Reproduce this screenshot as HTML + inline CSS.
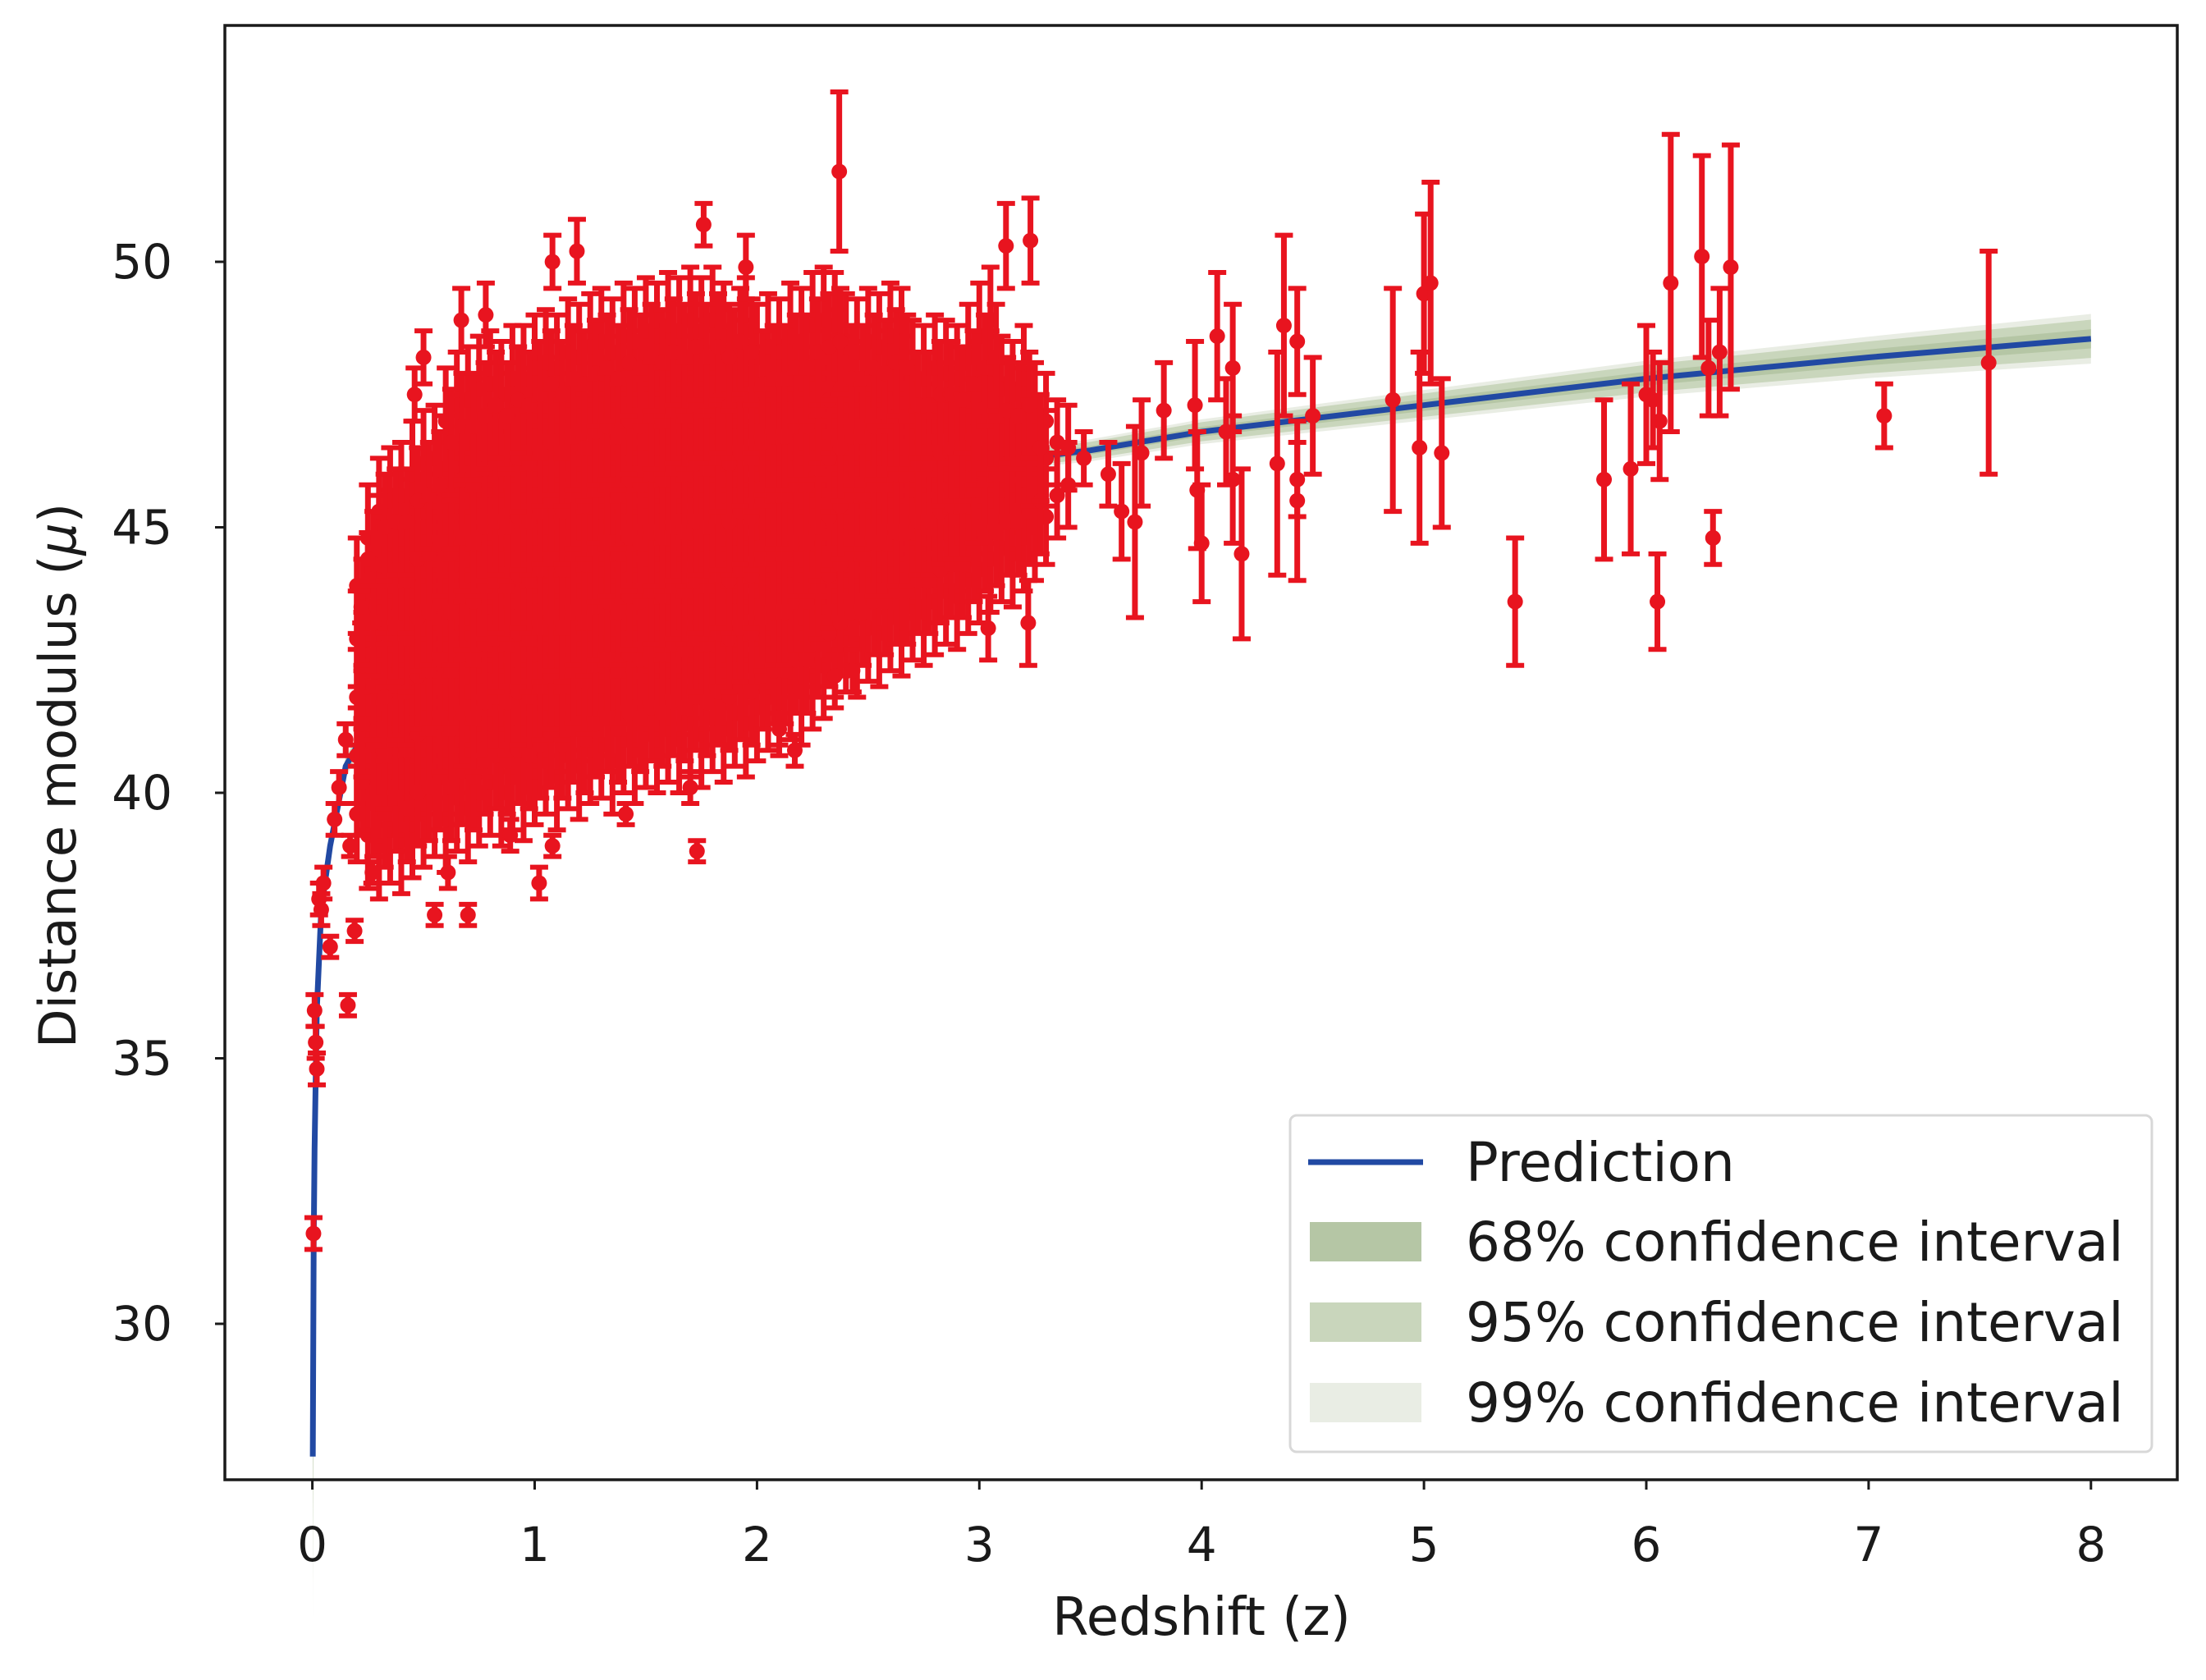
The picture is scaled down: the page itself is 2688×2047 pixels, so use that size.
<!DOCTYPE html>
<html><head><meta charset="utf-8"><style>
html,body{margin:0;padding:0;background:#fff;}
svg{display:block;font-family:"DejaVu Sans","Liberation Sans",sans-serif;}
</style></head><body>
<svg id="chart" width="2688" height="2047" viewBox="0 0 2688 2047" xmlns="http://www.w3.org/2000/svg">
<rect width="2688" height="2047" fill="#fff"/>
<g id="bands"></g>
<g id="pred"></g>
<g id="points"></g>
<g id="axes"></g>
<g id="legend"></g>
</svg>
<script>
// ---- data ----
const xTicks=[0,1,2,3,4,5,6,7,8];
const yTicks=[30,35,40,45,50];
const predZ=[0.002,0.004,0.006,0.01,0.02,0.04,0.08,0.15,0.3,0.5,1,2,3,3.5,4,5,6,7,8];
const predMu=[27.5,29.5,31.5,33.3,35.9,37.8,39.0,40.5,41.6,42.7,44.2,45.5,46.2,46.45,46.8,47.3,47.8,48.2,48.55];
const predSigma=[1.2,1.0,0.8,0.5,0.3,0.15,0.1,0.08,0.06,0.05,0.05,0.06,0.07,0.08,0.09,0.11,0.13,0.15,0.18];
const blobZ=[0.20,0.25,0.30,0.35,0.40,0.45,0.50,0.55,0.60,0.65,0.70,0.75,0.80,0.85,0.90,0.95,1.00,1.05,1.10,1.15,1.20,1.25,1.30,1.35,1.40,1.45,1.50,1.55,1.60,1.65,1.70,1.75,1.80,1.85,1.90,1.95,2.00,2.05,2.10,2.15,2.20,2.25,2.30,2.35,2.40,2.45,2.50,2.55,2.60,2.65,2.70,2.75,2.80,2.85,2.90,2.95,3.00,3.05,3.10,3.15,3.20,3.25,3.30,3.35,3.40];
const blobMu=[
[39.6,40.7,41.8,42.9,43.9],[39.2,40.3,41.5,42.6,43.8,44.8],[39.0,40.1,41.2,42.4,43.5,44.6,45.3],[39.3,40.4,41.4,42.5,43.6,44.7,45.5],
[39.1,40.2,41.3,42.3,43.4,44.5,45.6],[39.4,40.5,41.6,42.7,43.8,44.9,46.0],[39.6,40.6,41.7,42.8,43.9,45.0,46.2],[39.8,40.9,42.0,43.0,44.1,45.2,46.3],
[39.5,40.6,41.7,42.8,43.9,45.0,46.1,47.0],[39.9,41.0,42.1,43.2,44.3,45.4,46.5,47.3],[39.7,40.8,41.9,43.0,44.1,45.2,46.3,47.4],[40.0,41.1,42.2,43.3,44.4,45.5,46.6,47.6],
[40.2,41.3,42.4,43.5,44.6,45.7,46.8,47.7],[40.0,41.1,42.2,43.3,44.4,45.5,46.6,47.5],[40.3,41.4,42.5,43.6,44.7,45.8,46.9,47.8],[40.1,41.2,42.3,43.4,44.5,45.6,46.7,47.8],
[40.4,41.5,42.6,43.7,44.8,45.9,47.0,48.0],[40.6,41.7,42.8,43.9,45.0,46.1,47.2,48.1],[40.3,41.4,42.5,43.6,44.7,45.8,46.9,48.0],[40.7,41.8,42.9,44.0,45.1,46.2,47.3,48.3],
[40.5,41.6,42.7,43.8,44.9,46.0,47.1,48.2],[40.8,41.9,43.0,44.1,45.2,46.3,47.4,48.4],[40.9,42.0,43.1,44.2,45.3,46.4,47.5,48.5],[40.6,41.7,42.8,43.9,45.0,46.1,47.2,48.3],
[41.0,42.1,43.2,44.3,45.4,46.5,47.6,48.6],[40.8,41.9,43.0,44.1,45.2,46.3,47.4,48.5],[41.1,42.2,43.3,44.4,45.5,46.6,47.7,48.7],[41.0,42.1,43.2,44.3,45.4,46.5,47.6,48.6],
[41.2,42.3,43.4,44.5,45.6,46.7,47.8,48.8],[41.0,42.1,43.2,44.3,45.4,46.5,47.6,48.7],[41.3,42.4,43.5,44.6,45.7,46.8,47.9,48.9],[41.1,42.2,43.3,44.4,45.5,46.6,47.7,48.7],
[41.4,42.5,43.6,44.7,45.8,46.9,48.0,48.9],[41.2,42.3,43.4,44.5,45.6,46.7,47.8,48.6],[41.5,42.6,43.7,44.8,45.9,47.0,48.1],[41.3,42.4,43.5,44.6,45.7,46.8,47.9,48.7],
[41.6,42.7,43.8,44.9,46.0,47.1,48.2],[41.8,42.9,44.0,45.1,46.2,47.3,48.4],[41.7,42.8,43.9,45.0,46.1,47.2,48.3],[42.0,43.1,44.2,45.3,46.4,47.5,48.6],
[41.9,43.0,44.1,45.2,46.3,47.4,48.5],[42.2,43.3,44.4,45.5,46.6,47.7,48.8],[42.4,43.5,44.6,45.7,46.8,47.9,48.9],[42.6,43.7,44.8,45.9,47.0,48.1,48.8],
[42.9,44.0,45.1,46.2,47.3,48.4],[42.8,43.9,45.0,46.1,47.2,48.3],[43.1,44.2,45.3,46.4,47.5,48.5],[43.0,44.1,45.2,46.3,47.4,48.4],
[43.3,44.4,45.5,46.6,47.7,48.6],[43.2,44.3,45.4,46.5,47.6,48.5],[43.5,44.6,45.7,46.8,47.9],[43.4,44.5,45.6,46.7,47.8],
[43.6,44.7,45.8,46.9,48.0],[43.8,44.9,46.0,47.1,47.9],[43.7,44.8,45.9,47.0,47.8],[44.0,45.1,46.2,47.3,48.2],
[44.2,45.3,46.4,47.5,48.6],[44.4,45.5,46.6,47.7,48.9],[44.6,45.7,46.8,47.6],[44.5,45.6,46.7,47.5],
[44.8,45.9,47.0,47.8],[45.0,46.1,47.1],[45.2,46.3,47.0],[45.6,46.6],[45.8,46.5]];
const blobErr=[0.9,1.0,1.0,1.0,1.0,1.0,1.0,1.0,1.0,1.0,1.0,1.0,1.0,1.0,1.0,1.0,1.0,1.0,1.0,1.0,1.0,1.0,1.0,1.0,1.0,1.0,1.0,1.0,1.0,1.0,1.0,1.0,1.0,1.0,1.0,1.0,1.0,1.0,1.0,1.0,1.0,1.0,1.0,1.0,1.0,1.0,1.0,1.0,1.0,1.0,1.0,1.0,1.0,1.0,1.0,1.0,1.0,1.0,1.0,1.0,1.0,1.0,0.9,0.8,0.8];
const fillZ=[0.225,0.275,0.325,0.375,0.425,0.475,0.525,0.575,0.625,0.675,0.725,0.775,0.825,0.875,0.925,0.975,1.025,1.075,1.125,1.175,1.225,1.275,1.325,1.375,1.425,1.475,1.525,1.575,1.625,1.675,1.725,1.775,1.825,1.875,1.925,1.975,2.025,2.075,2.125,2.175,2.225,2.275,2.325,2.375,2.425,2.475,2.525,2.575,2.625,2.675,2.725,2.775,2.825,2.875,2.925,2.975,3.025,3.075,3.125,3.175,3.225,3.275];
const fillMu=[
[40.2,41.3,42.4,43.4],[39.8,40.9,42.0,43.2,44.3],[39.6,40.7,41.8,43.0,44.0,45.0],[39.9,41.0,42.0,43.1,44.2,45.1],
[39.7,40.8,41.9,42.9,44.0,45.1],[40.0,41.1,42.2,43.3,44.4,45.5],[40.1,41.2,42.3,43.4,44.5,45.6],[40.3,41.4,42.5,43.6,44.7,45.8],
[40.1,41.2,42.3,43.4,44.5,45.6,46.6],[40.4,41.5,42.6,43.7,44.8,45.9,46.9],[40.3,41.4,42.5,43.6,44.7,45.8,46.9],[40.6,41.7,42.8,43.9,45.0,46.1,47.1],
[40.7,41.8,42.9,44.0,45.1,46.2,47.3],[40.6,41.7,42.8,43.9,45.0,46.1,47.1],[40.8,41.9,43.0,44.1,45.2,46.3,47.4],[40.7,41.8,42.9,44.0,45.1,46.2,47.3],
[40.9,42.0,43.1,44.2,45.3,46.4,47.5],[41.1,42.2,43.3,44.4,45.5,46.6,47.7],[40.9,42.0,43.1,44.2,45.3,46.4,47.5],[41.2,42.3,43.4,44.5,45.6,46.7,47.8],
[41.0,42.1,43.2,44.3,45.4,46.5,47.7],[41.3,42.4,43.5,44.6,45.7,46.8,47.9],[41.4,42.5,43.6,44.7,45.8,46.9,48.0],[41.2,42.3,43.4,44.5,45.6,46.7,47.8],
[41.5,42.6,43.7,44.8,45.9,47.0,48.1],[41.4,42.5,43.6,44.7,45.8,46.9,48.0],[41.6,42.7,43.8,44.9,46.0,47.1,48.2],[41.5,42.6,43.7,44.8,45.9,47.0,48.1],
[41.7,42.8,43.9,45.0,46.1,47.2,48.3],[41.6,42.7,43.8,44.9,46.0,47.1,48.2],[41.8,42.9,44.0,45.1,46.2,47.3,48.4],[41.7,42.8,43.9,45.0,46.1,47.2,48.2],
[41.9,43.0,44.1,45.2,46.3,47.4,48.4],[41.8,42.9,44.0,45.1,46.2,47.3,48.2],[42.0,43.1,44.2,45.3,46.4,47.5,48.5],[41.9,43.0,44.1,45.2,46.3,47.4,48.3],
[42.2,43.3,44.4,45.5,46.6,47.7],[42.3,43.4,44.5,45.6,46.7,47.8],[42.3,43.4,44.5,45.6,46.7,47.8],[42.5,43.6,44.7,45.8,46.9,48.0],
[42.5,43.6,44.7,45.8,46.9,48.0],[42.8,43.9,45.0,46.1,47.2,48.3],[43.0,44.1,45.2,46.3,47.4,48.4],[43.2,44.3,45.4,46.5,47.6,48.5],
[43.4,44.5,45.6,46.7,47.8],[43.4,44.5,45.6,46.7,47.8],[43.6,44.7,45.8,46.9,48.0],[43.6,44.7,45.8,46.9,47.9],
[43.8,44.9,46.0,47.1,48.1],[43.8,44.9,46.0,47.1,48.0],[44.0,45.1,46.2,47.3],[44.0,45.1,46.2,47.3],
[44.2,45.3,46.4,47.5],[44.3,45.4,46.5,47.5],[44.3,45.4,46.5,47.4],[44.6,45.7,46.8,47.7],
[44.8,45.9,47.0,48.0],[44.9,46.0,47.1,48.2],[45.1,46.2,47.2],[45.1,46.2,47.1],
[45.3,46.4,47.3],[45.5,46.5]];
const outZ=[0.005,0.01,0.015,0.02,0.03,0.04,0.05,0.08,0.1,0.12,0.15,0.16,0.17,0.19,0.22,0.25,0.27,0.55,0.61,0.70,1.02,1.08,0.89,1.41,1.70,1.73,2.37,1.76,1.95,1.08,1.19,0.50,0.46,0.78,0.67,3.12,3.23,3.04,3.22,2.17,2.10,2.35,2.43,
3.47,3.58,3.64,3.70,3.73,3.83,3.97,3.98,4.00,4.07,4.11,4.14,4.14,4.18,4.34,4.37,4.43,4.43,4.43,4.50,4.86,5.00,5.03,4.98,5.08,5.41,5.81,5.93,6.00,6.03,6.05,6.06,6.11,6.25,6.28,6.30,6.33,6.38,7.07,7.54];
const outMu=[31.7,35.9,35.3,34.8,38.0,37.8,38.3,37.1,39.5,40.1,41.0,36.0,39.0,37.4,43.5,44.4,38.5,37.7,38.5,37.7,38.3,39.0,39.2,39.6,40.1,38.9,51.7,50.7,49.9,50.0,50.2,48.2,47.5,49.0,48.9,50.3,50.4,43.1,43.2,40.8,41.2,42.2,42.3,
46.3,46.0,45.3,45.1,46.4,47.2,47.3,45.7,44.7,48.6,46.8,48.0,45.9,44.5,46.2,48.8,48.5,45.9,45.5,47.1,47.4,49.4,49.6,46.5,46.4,43.6,45.9,46.1,47.5,47.4,43.6,47.0,49.6,50.1,48.0,44.8,48.3,49.9,47.1,48.1];
const outErr=[0.3,0.3,0.3,0.3,0.3,0.3,0.3,0.2,0.3,0.3,0.3,0.2,0.2,0.2,0.3,0.5,0.2,0.2,0.3,0.2,0.3,0.2,0.3,0.2,0.3,0.2,1.5,0.4,0.6,0.5,0.6,0.5,0.5,0.6,0.6,0.8,0.8,0.6,0.8,0.3,0.3,0.4,0.4,
0.5,0.6,0.9,1.8,1.0,0.9,1.2,1.1,1.1,1.2,1.0,1.2,1.2,1.6,2.1,1.7,1.0,0.7,1.5,1.1,2.1,1.5,1.9,1.8,1.4,1.2,1.5,1.6,1.3,0.9,0.9,1.1,2.8,1.9,0.9,0.5,1.2,2.3,0.6,2.1];

// ---- axes functions ----
const PL=274,PR=2653,PT=31,PB=1803;
const X=z=>380.6+z*270.9;
const Y=m=>319+(50-m)*64.7;
const NS="http://www.w3.org/2000/svg";
function mk(tag,attrs,parent){const e=document.createElementNS(NS,tag);for(const k in attrs)e.setAttribute(k,attrs[k]);parent.appendChild(e);return e;}

// bands
const bands=document.getElementById('bands');
const levels=[[2.6,'#e9ede4','band-99'],[2.0,'#c9d6bc','band-95'],[1.0,'#b5c6a5','band-68']];
levels.forEach(([k,c,n])=>{
  let up=predZ.map((z,i)=>X(z)+','+Y(predMu[i]+k*predSigma[i]));
  let dn=predZ.map((z,i)=>X(z)+','+Y(predMu[i]-k*predSigma[i])).reverse();
  const p=mk('polygon',{points:up.concat(dn).join(' '),fill:c},bands);
  
  
});
const pl=mk('polyline',{points:predZ.map((z,i)=>X(z)+','+Y(predMu[i])).join(' '),fill:'none',stroke:'#2149a3','stroke-width':7},document.getElementById('pred'));



// points
const pts=document.getElementById('points');
const RED='#e8141f';
function errPoint(z,m,e){
  const g=mk('g',{},pts);
  
  
  const x=X(z),y1=Y(m+e),y2=Y(m-e);
  mk('line',{x1:x,x2:x,y1:y1,y2:y2,stroke:RED,'stroke-width':7},g);
  mk('line',{x1:x-11,x2:x+11,y1:y1,y2:y1,stroke:RED,'stroke-width':6},g);
  mk('line',{x1:x-11,x2:x+11,y1:y2,y2:y2,stroke:RED,'stroke-width':6},g);
  mk('circle',{cx:x,cy:Y(m),r:9.5,fill:RED},g);
}
blobZ.forEach((z,i)=>blobMu[i].forEach(m=>errPoint(z,m,blobErr[i])));
fillZ.forEach((z,i)=>fillMu[i].forEach(m=>errPoint(z,m,1.0)));
outZ.forEach((z,i)=>errPoint(z,outMu[i],outErr[i]));

// axes
const ax=document.getElementById('axes');
const fr=mk('rect',{x:PL,y:PT,width:PR-PL,height:PB-PT,fill:'none',stroke:'#1a1a1a','stroke-width':3.5},ax);


xTicks.forEach(t=>{
  mk('line',{x1:X(t),x2:X(t),y1:PB,y2:PB+12,stroke:'#1a1a1a','stroke-width':3},ax);
  const tx=mk('text',{x:X(t),y:1902,'font-size':58,'text-anchor':'middle',fill:'#1a1a1a'},ax);
  tx.textContent=t;
  
  
});
yTicks.forEach(t=>{
  mk('line',{x1:PL-12,x2:PL,y1:Y(t),y2:Y(t),stroke:'#1a1a1a','stroke-width':3},ax);
  const tx=mk('text',{x:210,y:Y(t)+20,'font-size':58,'text-anchor':'end',fill:'#1a1a1a'},ax);
  tx.textContent=t;
  
  
});
const xl=mk('text',{x:1464,y:1992,'font-size':64,'text-anchor':'middle',fill:'#1a1a1a'},ax);
xl.textContent='Redshift (z)';


const yl=mk('text',{x:0,y:0,'font-size':62,'text-anchor':'middle',fill:'#1a1a1a',transform:'translate(92,945) rotate(-90)'},ax);
yl.innerHTML='Distance modulus (<tspan font-style="italic">μ</tspan>)';



// legend
const lg=document.getElementById('legend');
const lb=mk('rect',{x:1572,y:1359,width:1050,height:410,rx:8,fill:'#fff','fill-opacity':0.85,stroke:'#d8d8d8','stroke-width':3},lg);


const legRows=[['Prediction',null,1416],['68% confidence interval','#b5c6a5',1513],['95% confidence interval','#c9d6bc',1611],['99% confidence interval','#e9ede4',1709]];
legRows.forEach(([label,c,y])=>{
  const g=mk('g',{},lg);
  
  
  if(c===null) mk('line',{x1:1594,x2:1734,y1:y,y2:y,stroke:'#2149a3','stroke-width':7},g);
  else mk('rect',{x:1596,y:y-24,width:136,height:48,fill:c},g);
  const t=mk('text',{x:1786,y:y+23,'font-size':66,fill:'#1a1a1a'},g);
  t.textContent=label;
});
</script>
</body></html>
